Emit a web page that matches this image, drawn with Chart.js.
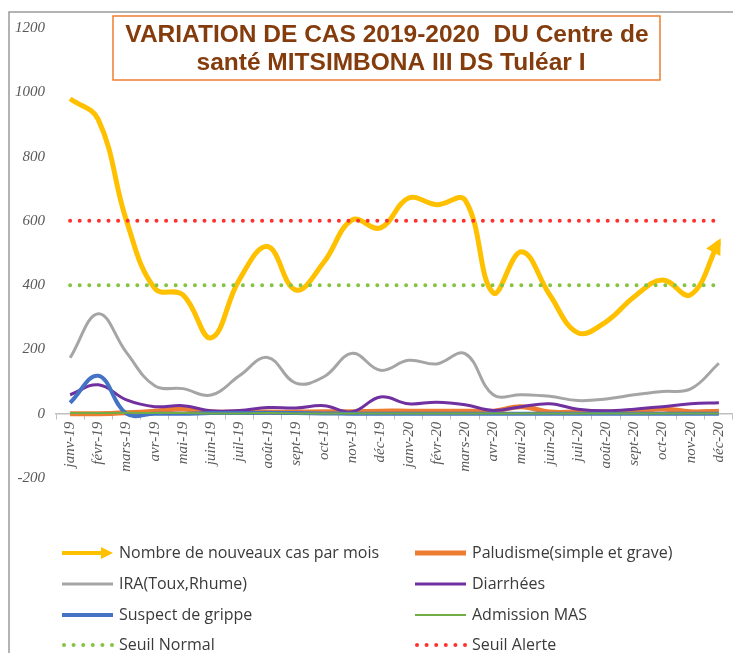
<!DOCTYPE html>
<html lang="fr">
<head>
<meta charset="utf-8">
<title>Variation de cas 2019-2020</title>
<script src="https://cdn.jsdelivr.net/npm/chart.js@4.4.0/dist/chart.umd.min.js"></script>
<style>
  html, body { margin: 0; padding: 0; background: #fff; }
  canvas { display: block; }
</style>
</head>
<body>
<canvas id="casChart" width="733" height="653"></canvas>
<script>
// ========================
// Données
// ========================
const mois = ['janv-19', 'févr-19', 'mars-19', 'avr-19', 'mai-19', 'juin-19', 'juil-19', 'août-19',
    'sept-19', 'oct-19', 'nov-19', 'déc-19', 'janv-20', 'févr-20', 'mars-20', 'avr-20',
    'mai-20', 'juin-20', 'juil-20', 'août-20', 'sept-20', 'oct-20', 'nov-20', 'déc-20'];

const nouveauxCas = [980, 915, 600, 390, 370, 236, 417, 520, 385, 472, 603, 578,
    671, 650, 665, 376, 504, 370, 252, 286, 364, 416, 370, 535];
const paludisme = [0, 0, 3, 8, 15, 5, 5, 5, 5, 6, 6, 8,
    8, 8, 8, 8, 22, 5, 5, 5, 8, 15, 6, 8];
const ira = [174, 311, 190, 87, 78, 58, 118, 175, 95, 115, 188, 135,
    166, 155, 187, 59, 59, 54, 41, 46, 59, 69, 77, 157];
const diarrhees = [59, 90, 43, 22, 25, 9, 10, 19, 18, 25, 6, 52,
    31, 36, 28, 10, 22, 31, 14, 9, 14, 22, 31, 34];
const grippe = [34, 118, 0, 0, 0, 2, 2, 3, 2, 1, 0, 0,
    0, 0, 0, 0, 0, 0, 0, 0, 0, 0, 0, 0];
const admissionMAS = [2, 2, 3, 2, 2, 1, 1, 2, 1, 1, 1, 1,
    1, 1, 1, 1, 1, 1, 1, 1, 1, 1, 1, 1];
const seuilNormal = [400, 400, 400, 400, 400, 400, 400, 400, 400, 400, 400, 400,
    400, 400, 400, 400, 400, 400, 400, 400, 400, 400, 400, 400];
const seuilAlerte = [600, 600, 600, 600, 600, 600, 600, 600, 600, 600, 600, 600,
    600, 600, 600, 600, 600, 600, 600, 600, 600, 600, 600, 600];

const axeY = [-200, 0, 200, 400, 600, 800, 1000, 1200];

const titre = ['VARIATION DE CAS 2019-2020  DU Centre de', 'santé MITSIMBONA III DS Tuléar I'];

// ========================
// Styles
// ========================
const couleurs = {
    cas: '#ffc000',
    palu: '#ed7d31',
    ira: '#a5a5a5',
    diarrhee: '#7030a0',
    grippe: '#4472c4',
    mas: '#70ad47',
    normal: '#84c441',
    alerte: '#ff3030'
};

function ligne(label, data, color, width, order, extra) {
    return Object.assign({
        label: label,
        data: data,
        borderColor: color,
        backgroundColor: color,
        borderWidth: width,
        pointRadius: 0,
        pointHoverRadius: 0,
        tension: 0.4,
        fill: false,
        order: order
    }, extra || {});
}

const datasets = [
    ligne('Nombre de nouveaux cas par mois', nouveauxCas, couleurs.cas, 5, 8),
    ligne('Paludisme(simple et grave)', paludisme, couleurs.palu, 5, 7),
    ligne('IRA(Toux,Rhume)', ira, couleurs.ira, 3, 6),
    ligne('Diarrhées', diarrhees, couleurs.diarrhee, 3, 5),
    ligne('Suspect de grippe', grippe, couleurs.grippe, 4, 4),
    ligne('Admission MAS', admissionMAS, couleurs.mas, 2, 3),
    ligne('Seuil Normal', seuilNormal, couleurs.normal, 4, 2, { tension: 0, borderDash: [0, 9.6], borderCapStyle: 'round' }),
    ligne('Seuil Alerte', seuilAlerte, couleurs.alerte, 4, 1, { tension: 0, borderDash: [0, 9.6], borderCapStyle: 'round' })
];

// ========================
// Dessins additionnels
// ========================
function fleche(ctx, x1, y1, x2, y2, color, lw, tete) {
    const ang = Math.atan2(y2 - y1, x2 - x1);
    const bx = x2 - Math.cos(ang) * tete;
    const by = y2 - Math.sin(ang) * tete;
    ctx.save();
    ctx.strokeStyle = color;
    ctx.fillStyle = color;
    ctx.lineWidth = lw;
    ctx.beginPath();
    ctx.moveTo(x1, y1);
    ctx.lineTo(bx, by);
    ctx.stroke();
    ctx.beginPath();
    ctx.moveTo(x2, y2);
    ctx.lineTo(bx + Math.sin(ang) * tete / 2, by - Math.cos(ang) * tete / 2);
    ctx.lineTo(bx - Math.sin(ang) * tete / 2, by + Math.cos(ang) * tete / 2);
    ctx.closePath();
    ctx.fill();
    ctx.restore();
}

const cadrePlugin = {
    id: 'cadre',
    beforeDraw(chart) {
        const ctx = chart.ctx;
        ctx.save();
        ctx.fillStyle = '#fff';
        ctx.fillRect(0, 0, chart.width, chart.height);
        ctx.strokeStyle = '#9a9a9a';
        ctx.lineWidth = 1.5;
        ctx.beginPath();
        ctx.moveTo(9, chart.height + 5);
        ctx.lineTo(9, 12);
        ctx.lineTo(chart.width + 5, 12);
        ctx.stroke();
        ctx.restore();
    }
};

const flechePlugin = {
    id: 'flecheCas',
    afterDatasetsDraw(chart) {
        const pts = chart.getDatasetMeta(0).data;
        const p = pts[pts.length - 1];
        const dx = p.x - p.cp1x, dy = p.y - p.cp1y;
        const n = Math.hypot(dx, dy) || 1;
        const ctx = chart.ctx;
        ctx.save();
        ctx.fillStyle = couleurs.cas;
        const tx = p.x + dx / n * 4, ty = p.y + dy / n * 4;
        const ux = dx / n, uy = dy / n, L = 16, W = 8;
        ctx.beginPath();
        ctx.moveTo(tx, ty);
        ctx.lineTo(tx - ux * L - uy * W, ty - uy * L + ux * W);
        ctx.lineTo(tx - ux * L + uy * W, ty - uy * L - ux * W);
        ctx.closePath();
        ctx.fill();
        ctx.restore();
    }
};

const titrePlugin = {
    id: 'titreBoite',
    afterDraw(chart) {
        const ctx = chart.ctx;
        ctx.save();
        ctx.fillStyle = '#fff';
        ctx.fillRect(113, 16, 547, 64);
        ctx.strokeStyle = '#ed7d31';
        ctx.lineWidth = 1.5;
        ctx.strokeRect(113, 16, 547, 64);
        ctx.fillStyle = '#843c0c';
        ctx.font = 'bold 24.5px "Liberation Sans", Arial, sans-serif';
        ctx.textAlign = 'center';
        ctx.textBaseline = 'middle';
        ctx.fillText(titre[0], 387, 35);
        ctx.fillText(titre[1], 391, 63);
        ctx.restore();
    }
};

const legendePlugin = {
    id: 'legendeGrille',
    afterDraw(chart) {
        const ctx = chart.ctx;
        const colX = [62, 415];
        const rowY = [553, 584, 615, 645];
        ctx.save();
        ctx.font = '16px "Open Sans", sans-serif';
        ctx.textBaseline = 'middle';
        ctx.textAlign = 'left';
        chart.data.datasets.forEach((ds, i) => {
            const x = colX[i % 2];
            const y = rowY[Math.floor(i / 2)];
            const x2 = x + 51;
            if (i === 0) {
                fleche(ctx, x, y, x2, y, ds.borderColor, 4, 12);
            } else {
                ctx.strokeStyle = ds.borderColor;
                ctx.lineWidth = ds.borderWidth;
                ctx.lineCap = ds.borderDash ? 'round' : 'butt';
                ctx.setLineDash(ds.borderDash || []);
                ctx.beginPath();
                ctx.moveTo(x + (ds.borderDash ? 2 : 0), y);
                ctx.lineTo(x2, y);
                ctx.stroke();
                ctx.setLineDash([]);
            }
            ctx.fillStyle = '#3a3a3a';
            ctx.fillText(ds.label, x2 + 6, y);
        });
        ctx.restore();
    }
};

// ========================
// Graphique
// ========================
const config = {
    type: 'line',
    data: { labels: mois, datasets: datasets },
    options: {
        responsive: false,
        animation: false,
        layout: { padding: { top: 28, bottom: 175, left: 0, right: 0 } },
        plugins: {
            legend: { display: false },
            title: { display: false },
            tooltip: { enabled: false }
        },
        scales: {
            x: {
                type: 'category',
                position: { y: 0 },
                offset: true,
                grid: { display: true, drawOnChartArea: false, drawTicks: true, tickLength: 5, color: '#bfbfbf', offset: true },
                border: { display: true, color: '#bfbfbf', width: 1.5 },
                ticks: {
                    autoSkip: false,
                    minRotation: 90,
                    maxRotation: 90,
                    padding: 3,
                    color: '#595959',
                    font: { family: '"Liberation Serif", serif', style: 'italic', size: 15 }
                },
                afterFit: (s) => { s.paddingLeft = 0; s.paddingRight = 0; }
            },
            y: {
                min: axeY[0],
                max: axeY[axeY.length - 1],
                grid: { display: false, drawTicks: false },
                border: { display: false },
                ticks: {
                    stepSize: axeY[1] - axeY[0],
                    padding: 11,
                    color: '#595959',
                    font: { family: '"Liberation Serif", serif', style: 'italic', size: 15 },
                    callback: (v) => String(v)
                },
                afterFit: (s) => { s.width = 56; }
            }
        }
    },
    plugins: [cadrePlugin, flechePlugin, titrePlugin, legendePlugin]
};

window.addEventListener('DOMContentLoaded', () => {
    const ctx = document.getElementById('casChart').getContext('2d');
    new Chart(ctx, config);
});
</script>
</body>
</html>
